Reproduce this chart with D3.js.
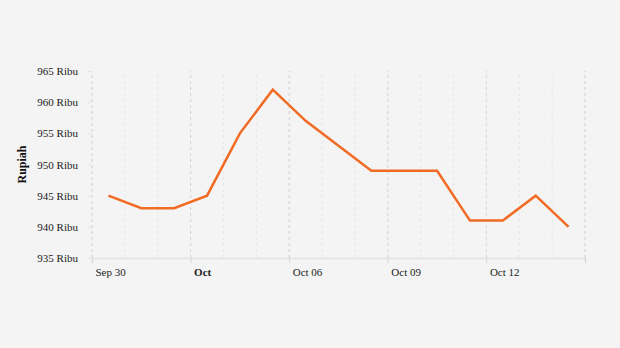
<!DOCTYPE html>
<html>
<head>
<meta charset="utf-8">
<script src="https://cdn.jsdelivr.net/npm/d3@7"></script>
<style>
  body { margin: 0; background: #f4f4f4; }
  svg { display: block; font-family: "Liberation Serif", "DejaVu Serif", serif; }
</style>
</head>
<body>
<svg width="620" height="348"></svg>
<script>
// harga per hari (ribu rupiah)
const dates = ["2019-09-30", "2019-10-01", "2019-10-02", "2019-10-03", "2019-10-04",
               "2019-10-05", "2019-10-06", "2019-10-07", "2019-10-08", "2019-10-09",
               "2019-10-10", "2019-10-11", "2019-10-12", "2019-10-13", "2019-10-14"];
const prices = [945, 943, 943, 945, 955, 962, 957, 953, 949, 949, 949, 941, 941, 945, 940];
const yTicks = [935, 940, 945, 950, 955, 960, 965];
const xTickDates = ["2019-09-30", "2019-10-03", "2019-10-06", "2019-10-09", "2019-10-12", "2019-10-15"];
const xTickLabels = ["Sep 30", "Oct", "Oct 06", "Oct 09", "Oct 12", ""];

const parse = d3.timeParse("%Y-%m-%d");
const data = dates.map((d, i) => ({ date: d3.timeHour.offset(parse(d), 12), value: prices[i] }));

const svg = d3.select("svg");
const margin = { left: 92, right: 35, top: 71, bottom: 90 };
const W = 620, H = 348;

const x = d3.scaleTime()
    .domain([parse("2019-09-30"), parse("2019-10-15")])
    .range([margin.left, W - margin.right]);
const y = d3.scaleLinear()
    .domain([935, 965])
    .range([H - margin.bottom, margin.top]);

// minor grid (tiap hari)
const days = d3.timeDay.range(parse("2019-09-30"), d3.timeDay.offset(parse("2019-10-15"), 1));
svg.append("g").selectAll("line").data(days).join("line")
    .attr("x1", d => x(d)).attr("x2", d => x(d))
    .attr("y1", y(935)).attr("y2", y(965))
    .attr("stroke", "#e6e6e6").attr("stroke-dasharray", "3,3");

// major grid (tiap 3 hari)
const xTickVals = xTickDates.map(parse);
svg.append("g").selectAll("line").data(xTickVals).join("line")
    .attr("x1", d => x(d)).attr("x2", d => x(d))
    .attr("y1", y(935)).attr("y2", y(965))
    .attr("stroke", "#d6d6d6").attr("stroke-dasharray", "3,3");

// x axis
const xAxis = svg.append("g")
    .attr("transform", `translate(0,${y(935)})`)
    .call(d3.axisBottom(x).tickValues(xTickVals).tickSize(5)
      .tickFormat((d, i) => xTickLabels[i]));
xAxis.select(".domain").attr("stroke", "#e2e2e2").attr("stroke-width", 1.5);
xAxis.selectAll(".tick line").attr("stroke", "#d6d6d6");
xAxis.selectAll(".tick text")
    .attr("text-anchor", "start").attr("x", 3).attr("y", 10)
    .attr("fill", "#222").attr("font-size", 11)
    .attr("font-family", "Liberation Serif, serif")
    .attr("font-weight", (d, i) => xTickLabels[i] === "Oct" ? "bold" : "normal");

// y axis
const yAxis = svg.append("g")
    .attr("transform", `translate(${margin.left},0)`)
    .call(d3.axisLeft(y).tickValues(yTicks).tickSize(5).tickPadding(9).tickFormat(d => d + " Ribu"));
yAxis.select(".domain").attr("stroke", "#e0e0e0").attr("stroke-dasharray", "3,3");
yAxis.selectAll(".tick line").attr("stroke", "#e6e6e6");
yAxis.selectAll(".tick text")
    .attr("fill", "#222").attr("font-size", 11)
    .attr("font-family", "Liberation Serif, serif");

svg.append("text")
    .attr("transform", `translate(26,${(y(935) + y(965)) / 2}) rotate(-90)`)
    .attr("text-anchor", "middle")
    .attr("font-size", 12).attr("font-weight", "bold").attr("fill", "#111")
    .text("Rupiah");

// garis harga
const line = d3.line().x(d => x(d.date)).y(d => y(d.value));
svg.append("path").datum(data)
    .attr("d", line)
    .attr("fill", "none")
    .attr("stroke", "#f26b24")
    .attr("stroke-width", 2.5)
    .attr("stroke-linejoin", "miter");
</script>
</body>
</html>
